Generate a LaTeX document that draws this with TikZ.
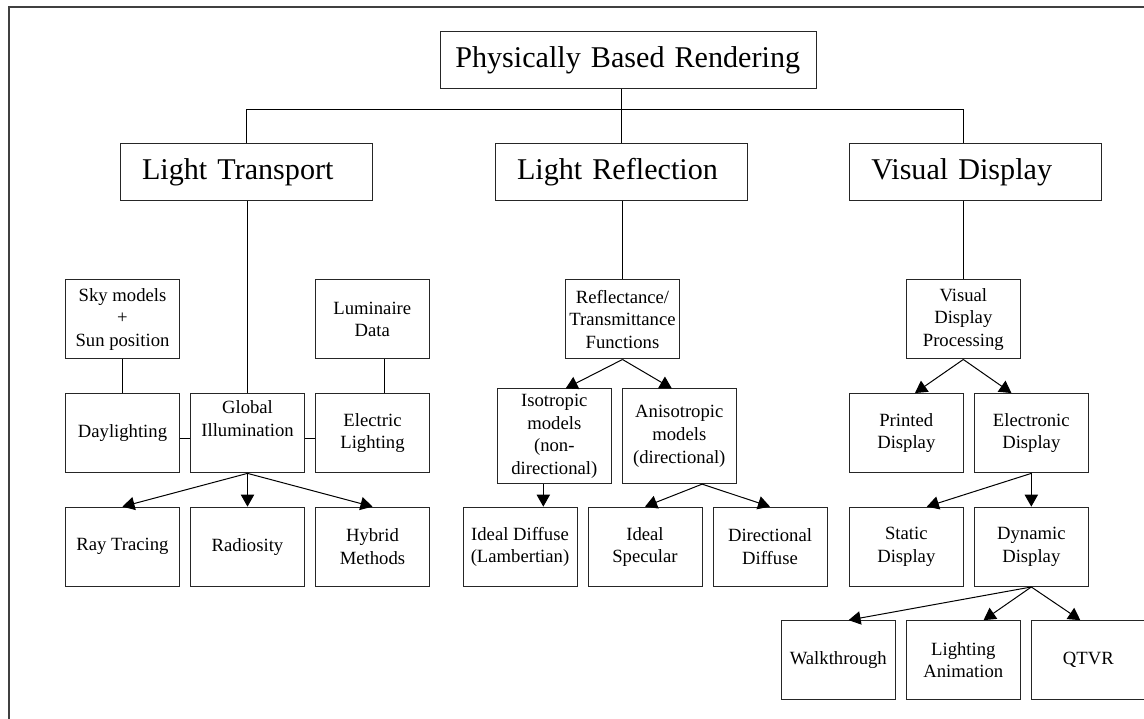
\documentclass[tikz,border=0pt]{standalone}
\usepackage{fontspec}
\setmainfont{Liberation Serif}
\usetikzlibrary{positioning,arrows.meta}
\tikzset{
  headbox/.style={rectangle, draw=black!85, minimum height=42.75pt, inner xsep=16.5pt, text width=156.4pt, align=left, font=\fontsize{22.6}{27}\selectfont},
  itembox/.style={rectangle, draw=black!85, minimum width=85.5pt, minimum height=59.5pt, inner sep=2pt, align=center, font=\fontsize{14}{16.9}\selectfont},
  arr/.style={-{Triangle[width=10pt,length=9pt]}},
}
\begin{document}
\begin{tikzpicture}[x=0.75pt, y=-0.75pt, line width=0.75pt]
	\useasboundingbox (0,0) rectangle (1144,718);
	\draw[line width=1.5pt, black!75] (8.7,730) -- (8.7,7) -- (1160,7);
	\node[headbox, inner xsep=11.25pt, text width=259.3pt] (pbr) at (628.2,60.3) {Physically Based Rendering};
	\node[headbox] (transport) at (246.3,171.8) {Light Transport};
	\node[headbox] (reflection) at (621.3,171.8) {Light Reflection};
	\node[headbox] (display) at (975.7,171.8) {Visual Display};
	\node[itembox] (sky) at (122.5,319.3) {Sky models\\+\\Sun position};
	\node[itembox] (luminaire) at (372.3,319.3) {Luminaire\\Data};
	\node[itembox] (reflectance) at (622.5,319.3) {Reflectance/\\Transmittance\\Functions};
	\node[itembox] (processing) at (963.3,319.3) {Visual\\Display\\Processing};
	\node[itembox] (daylighting) at (122.5,433.2) {Daylighting};
	\node[itembox, right=7.5pt of daylighting] (global) {Global\\Illumination\\\strut};
	\node[itembox, right=7.5pt of global] (electric) {Electric\\Lighting};
	\node[itembox, minimum height=71pt] (isotropic) at (554.3,436.3) {Isotropic\\models\\(non-\\directional)};
	\node[itembox, minimum height=71pt, right=7.5pt of isotropic] (anisotropic) {Anisotropic\\models\\(directional)};
	\node[itembox] (printed) at (906.3,433.2) {Printed\\Display};
	\node[itembox, right=7.5pt of printed] (electronic) {Electronic\\Display};
	\node[itembox] (raytracing) at (122.5,546.8) {Ray Tracing};
	\node[itembox, right=7.5pt of raytracing] (radiosity) {Radiosity};
	\node[itembox, right=7.5pt of radiosity] (hybrid) {Hybrid\\Methods};
	\node[itembox] (diffuse) at (520,546.8) {Ideal Diffuse\\(Lambertian)};
	\node[itembox, right=7.5pt of diffuse] (specular) {Ideal\\Specular};
	\node[itembox, right=7.5pt of specular] (directional) {Directional\\Diffuse};
	\node[itembox] (static) at (906.3,546.8) {Static\\Display};
	\node[itembox, right=7.5pt of static] (dynamic) {Dynamic\\Display};
	\node[itembox] (walkthrough) at (838.3,660.3) {Walkthrough};
	\node[itembox, right=7.5pt of walkthrough] (animation) {Lighting\\Animation};
	\node[itembox, right=7.5pt of animation] (qtvr) {QTVR};
	\coordinate (bus) at (963.3,109.3);
	\draw (transport.north) |- (bus) -- (bus |- display.north);
	\draw (reflection.north |- pbr.south) -- (reflection.north);
	\draw (global.north |- transport.south) -- (global.north);
	\draw (reflectance.north |- reflection.south) -- (reflectance.north);
	\draw (processing.north |- display.south) -- (processing.north);
	\draw (sky.south) -- (sky.south |- daylighting.north);
	\draw ([xshift=8.8pt]luminaire.south) -- ([xshift=8.8pt]luminaire.south |- electric.north);
	\draw ([yshift=-4.3pt]daylighting.east) -- ([yshift=-4.3pt]global.west);
	\draw ([yshift=-4.3pt]global.east) -- ([yshift=-4.3pt]electric.west);
	\draw[arr] (global.south) -- (raytracing.north);
	\draw[arr] (global.south) -- (radiosity.north);
	\draw[arr] (global.south) -- (hybrid.north);
	\draw[arr] (reflectance.south) -- ([xshift=8.5pt]isotropic.north);
	\draw[arr] (reflectance.south) -- ([xshift=-5.6pt]anisotropic.north);
	\draw[arr] ([xshift=-8.25pt]isotropic.south) -- ([xshift=-8.25pt]isotropic.south |- diffuse.north);
	\draw[arr] ([xshift=17.1pt]anisotropic.south) -- (specular.north);
	\draw[arr] ([xshift=17.1pt]anisotropic.south) -- (directional.north);
	\draw[arr] (processing.south) -- ([xshift=6.5pt]printed.north);
	\draw[arr] (processing.south) -- ([xshift=-14.9pt]electronic.north);
	\draw[arr] (electronic.south) -- ([xshift=15.4pt]static.north);
	\draw[arr] (electronic.south) -- (electronic.south |- dynamic.north);
	\draw[arr] (dynamic.south) -- ([xshift=7.7pt]walkthrough.north);
	\draw[arr] (dynamic.south) -- ([xshift=15.2pt]animation.north);
	\draw[arr] (dynamic.south) -- ([xshift=-6pt]qtvr.north);
\end{tikzpicture}
\end{document}
